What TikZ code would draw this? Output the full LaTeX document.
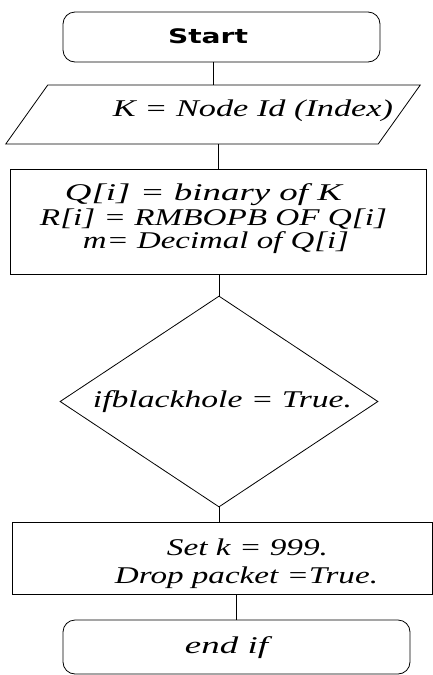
\documentclass[tikz,border=0pt]{standalone}
\usepackage{fontspec}
\usepackage{graphicx}
\usetikzlibrary{shapes.geometric}
\newfontfamily\flowfont{Liberation Serif}
\newfontfamily\startfont{DejaVu Sans}
% stretch one line of text to a given width, keeping its height
\newcommand\fitline[2]{\resizebox{#1}{\height}{#2}}
\begin{document}
\begin{tikzpicture}[x=1pt,y=-1pt,line width=0.8pt,
  term/.style={draw,rounded corners=12pt,inner sep=0pt},
  procbox/.style={draw,inner sep=0pt},
  txt/.style={font=\flowfont\itshape\fontsize{24}{24}\selectfont,anchor=base,inner sep=0pt}]
\useasboundingbox (0,0) rectangle (433,675);
% shapes
\node[term,minimum width=317pt,minimum height=50pt] (start) at (221.5,37) {};
\node[draw,xslant=0.712,transform shape,minimum width=372.5pt,minimum height=59pt,inner sep=0pt] (input) at (213,114.5) {};
\node[procbox,minimum width=416pt,minimum height=105pt] (proc) at (218,221.5) {};
\node[draw,diamond,minimum width=318pt,minimum height=211pt,inner sep=0pt] (check) at (219,401.5) {};
\node[procbox,minimum width=420pt,minimum height=72pt] (act) at (222,558) {};
\node[term,minimum width=347pt,minimum height=54pt] (finish) at (236.5,647) {};
% texts
\node[font=\startfont\bfseries\fontsize{20}{24}\selectfont,anchor=base,inner sep=0pt] (starttext) at (208,43) {\fitline{80pt}{Start}};
\node[txt] (inputtext) at (253,116) {\fitline{280pt}{K = Node Id (Index)}};
\node[txt] (proctexta) at (203.5,200) {\fitline{277pt}{Q[i] = binary of K}};
\node[txt] (proctextb) at (213.5,225) {\fitline{347pt}{R[i] = RMBOPB OF Q[i]}};
\node[txt] (proctextc) at (216,248) {\fitline{266pt}{m= Decimal of Q[i]}};
\node[txt] (checktext) at (222.5,407) {\fitline{259pt}{ifblackhole = True.}};
\node[txt] (acttexta) at (247.5,555) {\fitline{161pt}{Set k = 999.}};
\node[txt] (acttextb) at (246.5,583) {\fitline{263pt}{Drop packet =True.}};
\node[txt] (finishtext) at (226.5,653) {\fitline{83pt}{end if}};
% connectors
\draw (input.center |- start.south) -- (input.center |- input.north);
\draw (proc.north |- input.south) -- (proc.north);
\draw (check.north |- proc.south) -- (check.north);
\draw (check.south) -- (check.south |- act.north);
\draw (act.south -| finish.north) -- (finish.north);
\end{tikzpicture}
\end{document}
